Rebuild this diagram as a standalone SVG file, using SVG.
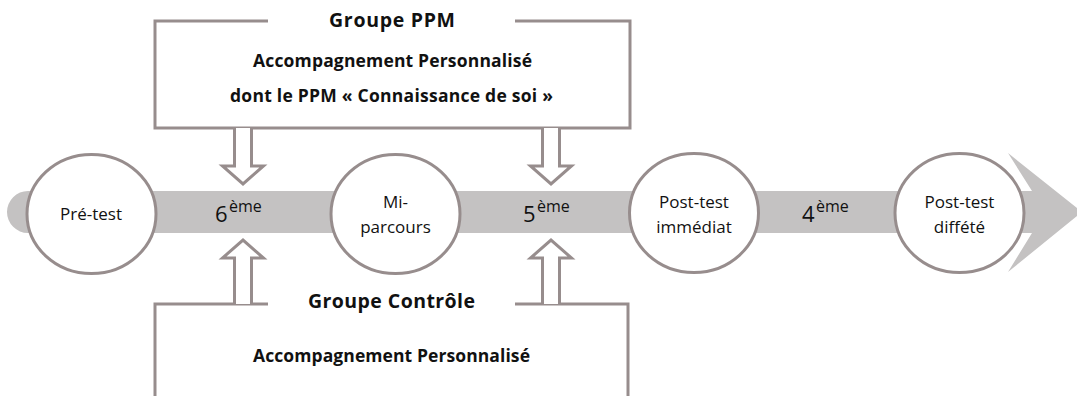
<svg xmlns="http://www.w3.org/2000/svg" width="1077" height="396" viewBox="0 0 1077 396">
<style>
.ln{fill:none;stroke:#978d8d;stroke-width:3}
.ar{fill:#fff;stroke:#978d8d;stroke-width:3;stroke-linejoin:miter}
.cir{fill:#fff;stroke:#978d8d;stroke-width:3}
.t{font-family:"Open Sans","Liberation Sans",sans-serif;fill:#111;text-anchor:middle}
.n{font-size:17px}
.b{font-weight:bold}
.lv{font-family:"Open Sans","Liberation Sans",sans-serif;fill:#111}
</style>
<rect width="1077" height="396" fill="#fff"/>
<g id="timeline">
<path d="M1032 191 L28 191 A21 21 0 0 0 28 233 L1032 233 L1008 272 L1082 212 L1008 153 Z" fill="#c4c2c2"/>
</g>
<g id="groupe-ppm">
<path class="ln" d="M268 21 L155 21 L155 128 L630 128 L630 21 L515 21"/>
<text class="t b" x="392" y="27" font-size="19.5" textLength="126" lengthAdjust="spacing">Groupe PPM</text>
<text class="t b" x="392.5" y="67" font-size="17.5" textLength="279" lengthAdjust="spacing">Accompagnement Personnalisé</text>
<text class="t b" x="391.5" y="102" font-size="17.5" textLength="323" lengthAdjust="spacing">dont le PPM « Connaissance de soi »</text>
</g>
<g id="groupe-controle">
<path class="ln" d="M268 304 L155 304 L155 400 M515 304 L628 304 L628 400"/>
<text class="t b" x="391.5" y="308" font-size="19.5" textLength="167" lengthAdjust="spacing">Groupe Contrôle</text>
<text class="t b" x="391.5" y="362" font-size="17.5" textLength="277" lengthAdjust="spacing">Accompagnement Personnalisé</text>
</g>
<g id="connectors">
<path class="ar" d="M234.5 128 L234.5 166 L222.5 166 L243 184 L263.5 166 L251.5 166 L251.5 128"/>
<path class="ar" d="M542.5 128 L542.5 166 L530.5 166 L551 184 L571.5 166 L559.5 166 L559.5 128"/>
<path class="ar" d="M234.5 304 L234.5 258 L222.5 258 L243 240 L263.5 258 L251.5 258 L251.5 304"/>
<path class="ar" d="M542.5 304 L542.5 258 L530.5 258 L551 240 L571.5 258 L559.5 258 L559.5 304"/>
</g>
<g id="pre-test">
<ellipse class="cir" cx="91.5" cy="214" rx="64.5" ry="59.5"/>
<text class="t n" x="91" y="220">Pré-test</text>
</g>
<g id="mi-parcours">
<ellipse class="cir" cx="395.5" cy="214" rx="64.5" ry="59.5"/>
<text class="t n" x="395.5" y="208">Mi-</text>
<text class="t n" x="395.5" y="233">parcours</text>
</g>
<g id="post-test-immediat">
<ellipse class="cir" cx="694" cy="213" rx="64.5" ry="59.5"/>
<text class="t n" x="694" y="208">Post-test</text>
<text class="t n" x="694" y="233">immédiat</text>
</g>
<g id="post-test-differe">
<ellipse class="cir" cx="959.5" cy="213" rx="64.5" ry="59.5"/>
<text class="t n" x="959.5" y="208">Post-test</text>
<text class="t n" x="959.5" y="233">diffété</text>
</g>
<g id="levels">
<text class="lv" x="215" y="222" font-size="22">6<tspan x="229" y="212" font-size="16">ème</tspan></text>
<text class="lv" x="523" y="222" font-size="22">5<tspan x="537" y="212" font-size="16">ème</tspan></text>
<text class="lv" x="802" y="222" font-size="22">4<tspan x="816" y="212" font-size="16">ème</tspan></text>
</g>
</svg>
